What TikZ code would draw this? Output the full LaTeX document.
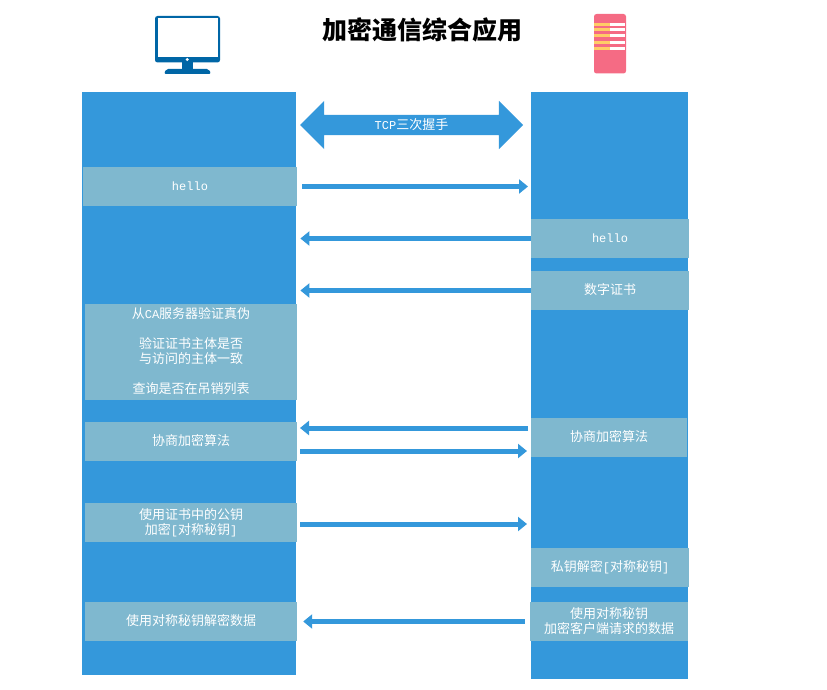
\documentclass[tikz,border=0pt]{standalone}
\usepackage{fontspec}
\setmainfont{Noto Sans CJK SC}
\newfontfamily\lat{Liberation Mono}
\newcommand{\lt}[1]{{\lat\fontsize{12}{15}\selectfont #1}}
\usetikzlibrary{shapes.arrows,arrows.meta}
\definecolor{lane}{HTML}{3498DB}
\definecolor{boxc}{HTML}{7FB8CF}
\definecolor{mon}{HTML}{0066A6}
\definecolor{pinkc}{HTML}{F56B84}
\definecolor{yel}{HTML}{FFCC66}
\tikzset{
  x=1pt,y=-1pt,
  lanebox/.style={fill=lane,draw=none,inner sep=0pt,anchor=north west},
  msgbox/.style={fill=boxc,draw=none,inner sep=0pt,text=white,align=center,font=\fontsize{13}{15}\selectfont},
  oneline/.style={text height=11pt,text depth=4pt},
  arr/.style={draw=lane,line width=5pt,-{Triangle[length=9pt,width=14pt]}},
}
\begin{document}
\begin{tikzpicture}
\useasboundingbox (0,0) rectangle (827,690);
% lanes
\node[lanebox,minimum width=214pt,minimum height=583pt] (laneC) at (82,92) {};
\node[lanebox,minimum width=157pt,minimum height=587pt] (laneS) at (531,92) {};
% title
\node[font=\fontsize{25}{28}\selectfont\bfseries] (title) at (422,29.5) {加密通信综合应用};
% monitor
\fill[mon,rounded corners=2.5pt] (155,16) rectangle (220,62.5);
\fill[white] (157.5,18) rectangle (218,57);
\fill[mon] (182,61) rectangle (193,70);
\fill[mon,rounded corners=2pt] (164,74) -- (166,69) -- (209,69) -- (211,74) -- cycle;
\fill[white] (187.3,59.5) circle (1.6pt);
% phone
\fill[pinkc,rounded corners=2.5pt] (594,14) rectangle (626,73.5);
\foreach \ya/\yb in {23/26,28/31,34/37,40.7/43.7,47.3/50}{
  \fill[yel] (594,\ya) rectangle (610,\yb);
  \fill[white] (610,\ya) rectangle (625,\yb);
}
% handshake
\node[double arrow,fill=lane,draw=none,text=white,inner xsep=0pt,inner ysep=0pt,
  minimum height=223pt,minimum width=48pt,double arrow head extend=14pt,
  text height=15pt,text depth=5pt,font=\fontsize{13}{15}\selectfont] (tcp) at (411.5,125) {\lt{TCP}三次握手};
% client boxes
\node[msgbox,oneline,minimum width=214pt,minimum height=39pt] (c1) at (190,186.5) {\lt{hello}};
\node[msgbox,minimum width=212pt,minimum height=96pt,anchor=north] (c2) at (191,304) {};
\node[msgbox,fill=none,anchor=north,inner ysep=3.5pt] (c2t) at (191,304) {从\lt{CA}服务器验证真伪\\[15pt]验证证书主体是否\\与访问的主体一致\\[15pt]查询是否在吊销列表};
\node[msgbox,oneline,minimum width=212pt,minimum height=39pt] (c3) at (191,441.5) {协商加密算法};
\node[msgbox,minimum width=212pt,minimum height=39pt] (c4) at (191,522.5) {使用证书中的公钥\\加密\lt{[}对称秘钥\lt{]}};
\node[msgbox,oneline,minimum width=212pt,minimum height=39pt] (c5) at (191,621.5) {使用对称秘钥解密数据};
% server boxes
\node[msgbox,oneline,minimum width=158pt,minimum height=39pt] (s1) at (610,238.5) {\lt{hello}};
\node[msgbox,oneline,minimum width=158pt,minimum height=39pt] (s2) at (610,290.5) {数字证书};
\node[msgbox,oneline,minimum width=156pt,minimum height=39pt] (s3) at (609,437.5) {协商加密算法};
\node[msgbox,minimum width=158pt,minimum height=39pt] (s4) at (610,567.5) {私钥解密\lt{[}对称秘钥\lt{]}};
\node[msgbox,minimum width=158pt,minimum height=39pt] (s5) at (609,621.5) {使用对称秘钥\\加密客户端请求的数据};
% connectors
\coordinate (a3l) at (300,428);
\coordinate (a3r) at (528,428);
\coordinate (b3l) at (300,451);
\coordinate (b3r) at (527,451);
\coordinate (a4r) at (527,524);
\coordinate (a4l) at (300,524);
\draw[arr,shorten <=5pt,shorten >=3pt] (c1.east) -- (laneS.west |- c1.east);
\draw[arr,shorten >=4pt] (s1.west) -- (laneC.east |- s1.west);
\draw[arr,shorten >=4pt] (s2.west) -- (laneC.east |- s2.west);
\draw[arr] (a3r) -- (a3l);
\draw[arr] (b3l) -- (b3r);
\draw[arr] (a4l) -- (a4r);
\draw[arr,shorten <=5pt,shorten >=6pt] (s5.west) -- (c5.east);
\end{tikzpicture}
\end{document}
